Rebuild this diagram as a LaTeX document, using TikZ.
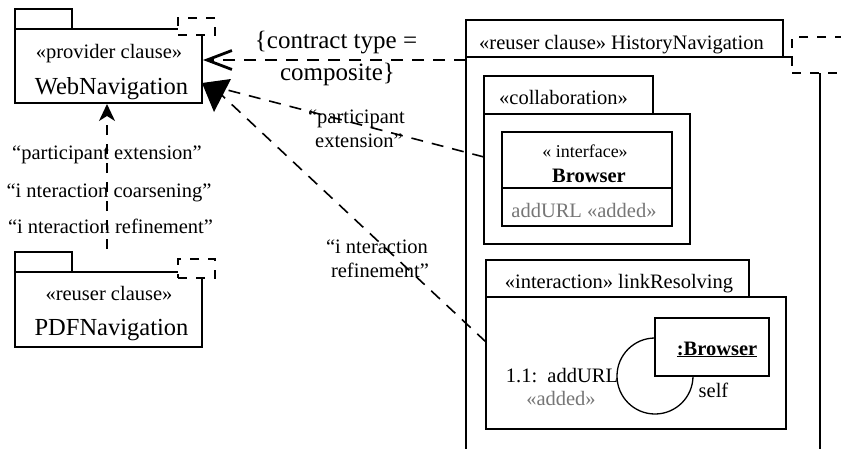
\documentclass[tikz,border=0pt]{standalone}
\usepackage{fontspec}
\setmainfont{Liberation Serif}
\usetikzlibrary{arrows.meta}
\definecolor{addgray}{RGB}{118,118,118}
\begin{document}
\begin{tikzpicture}[x=1pt,y=-1pt,
  frame/.style={draw, line width=1.5pt, inner sep=0pt, outer sep=0pt, anchor=north west, fill=white},
  tmpl/.style={frame, dash pattern=on 9pt off 9pt},
  sz/.style 2 args={minimum width=#1pt, minimum height=#2pt},
  dep/.style={line width=1.6pt, dash pattern=on 12pt off 9pt},
  txt/.style={inner sep=0pt, anchor=base, font=\fontsize{20.5}{24}\selectfont},
  small/.style={inner sep=0pt, anchor=base, font=\fontsize{18}{22}\selectfont},
  big/.style={inner sep=0pt, anchor=base, font=\fontsize{24.5}{28}\selectfont},
  divider/.style={line width=2.6pt},
  openhead/.style={-{Straight Barb[length=25pt,width=19pt,line width=2.8pt]}},
  stealthhead/.style={-{Stealth[length=17pt,width=16pt,inset=5pt]}},
]
\useasboundingbox (0,0) rectangle (841,448);
\begin{scope}
\clip (0,0) rectangle (841,448);

% ---- package WebNavigation ----
\node[frame, sz={187}{74}] (web) at (15,29) {};
\node[frame, sz={57}{20}] (webtab) at (15,9) {};
\node[tmpl, sz={37}{17}] (webtpl) at (178,18) {};
\node[txt] (webst) at (109,58) {«provider clause»};
\node[big] (webname) at (111.5,94) {WebNavigation};

% ---- package PDFNavigation ----
\node[frame, sz={187}{75}] (pdf) at (15,272) {};
\node[frame, sz={57}{20}] (pdftab) at (15,252) {};
\node[tmpl, sz={37}{19}] (pdftpl) at (178,259) {};
\node[txt] (pdfst) at (109,300) {«reuser clause»};
\node[big] (pdfname) at (111.5,335) {PDFNavigation};

% ---- package HistoryNavigation ----
\node[frame, sz={354}{420}] (hist) at (466,57) {};
\node[frame, sz={317}{37}] (histhead) at (466,20) {};
\node[tmpl, sz={80}{36}] (histtpl) at (792,37) {};
\draw[divider] (hist.north west) -- (histtpl.west |- hist.north) -- ++(0,8);
\node[txt] (histname) at (621.5,49) {«reuser clause» HistoryNavigation};

% ---- collaboration ----
\node[frame, sz={206}{130}] (collab) at (484,114) {};
\node[frame, sz={169}{38}] (collabtab) at (484,76) {};
\draw[divider] (collabtab.south west) -- (collabtab.south east);
\node[txt] (collabst) at (563.5,104) {«collaboration»};

% interface Browser
\node[frame, sz={170}{94}] (iface) at (502,132) {};
\draw[line width=1.5pt] (iface.west |- 0,188) coordinate (ifdivL) -- (iface.east |- ifdivL);
\node[small] (ifst) at (585,157) {« interface»};
\node[txt, font=\fontsize{20.5}{24}\selectfont\bfseries] (ifname) at (589,182) {Browser};
\node[txt, text=addgray] (ifop) at (584,217) {addURL «added»};

% ---- interaction ----
\node[frame, sz={300}{132}] (inter) at (486,297) {};
\node[frame, sz={263}{37}] (intertab) at (486,260) {};
\draw[divider] (intertab.south west) -- (intertab.south east);
\node[txt] (interst) at (619,288) {«interaction» linkResolving};

% lifeline object with self message
\node[frame, sz={114}{58}] (obj) at (655,318) {};
\node[txt, font=\fontsize{20.5}{24}\selectfont\bfseries] (objname) at (717,355) {\underline{:Browser}};
\draw[line width=1.3pt] (obj.west |- 0,338) arc[start angle=90, end angle=360, radius=38pt];
\node[txt] (msg) at (562,382) {1.1:\ \ addURL};
\node[txt, text=addgray] (msgst) at (561,405) {«added»};
\node[txt] (selflbl) at (713.5,397) {self};

% ---- dependencies ----
\coordinate (webR) at (203,60);
\coordinate (histL) at (webR -| hist.west);
\draw[dep, openhead] (histL) -- (webR);
\node[big, font=\fontsize{25}{28}\selectfont] (ct1) at (336,48) {\{contract type =};
\node[big, font=\fontsize{25}{28}\selectfont] (ct2) at (337.5,80) {composite\}};

\coordinate (agg) at (212,86);
\coordinate (collabIn) at (484,157);
\coordinate (interIn) at (486,342);
\draw[dep] (collabIn) -- (agg);
\draw[dep] (interIn) -- (agg);
\fill (202,83) -- (231,79) -- (214,112) -- cycle;
\node[txt] (pe1) at (356.5,123) {“participant};
\node[txt] (pe2) at (359,147) {extension”};
\node[txt] (ir1) at (377,253) {“i nteraction};
\node[txt] (ir2) at (380,277) {refinement”};

\coordinate (pdfUp) at (107,249);
\coordinate (webDown) at (107,104);
\draw[dep, dash pattern=on 10pt off 9pt, stealthhead] (pdfUp) -- (webDown);
\node[txt] (l1) at (107,159) {“participant extension”};
\node[txt] (l2) at (109,197) {“i nteraction coarsening”};
\node[txt] (l3) at (110.5,233) {“i nteraction refinement”};
\end{scope}
\end{tikzpicture}
\end{document}
